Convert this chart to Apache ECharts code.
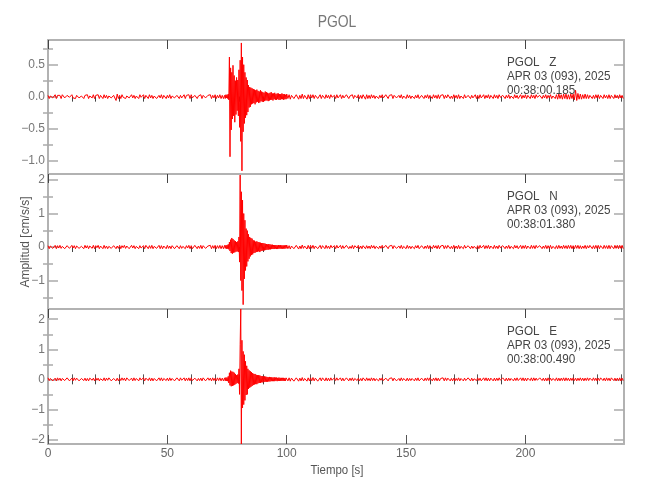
<!DOCTYPE html>
<html>
<head>
<meta charset="utf-8">
<script src="https://cdn.jsdelivr.net/npm/echarts@6/dist/echarts.min.js"></script>
<style>html,body{margin:0;padding:0;background:#fff}#c{width:650px;height:500px}</style>
</head>
<body>
<div id="c"></div>
<script>
// ---------- data (cm/s/s) ----------
// stored samples: pre-event every 0.5 s from 0 s, event window every 0.25 s from 74 s, post-event every 0.5 s from 100 s
const preStart = 0, preStep = 0.5;
const evStart = 74, evStep = 0.25;
const postStart = 100, postStep = 0.5;

const zPre = [
 0.02,-0.03,0.01,0.03,-0.02,-0.01,0.03,-0.03,0.02,-0.01,0.02,-0.03,0.03,0.01,-0.02,-0.03,0.02,0.03,-0.01,-0.03,
 0.03,-0.02,0.01,-0.03,0.02,0.03,-0.02,-0.03,0.01,0.02,-0.03,0.02,-0.01,0.03,-0.03,0.01,0.02,-0.02,0.03,-0.03,
 0.02,-0.01,0.03,-0.03,0.02,0.01,-0.03,0.03,-0.02,0.02,-0.03,0.01,0.03,-0.02,-0.03,0.02,0.05,-0.06,0.04,-0.03,
 0.02,-0.03,0.03,-0.01,0.02,-0.03,0.01,0.03,-0.02,-0.03,0.03,-0.02,0.02,-0.03,0.01,0.02,-0.03,0.03,-0.01,-0.02,
 0.03,-0.03,0.02,0.01,-0.03,0.03,-0.02,0.02,-0.03,0.01,0.03,-0.03,-0.01,0.02,-0.02,0.03,-0.03,0.02,0.01,-0.03,
 0.02,-0.02,0.03,-0.03,0.01,0.03,-0.02,-0.03,0.02,0.03,-0.03,0.02,-0.02,0.01,0.03,-0.03,0.02,-0.01,0.03,-0.03,
 0.03,-0.02,-0.03,0.02,0.03,-0.03,0.01,-0.02,0.03,-0.03,0.02,0.03,-0.02,-0.03,0.02,-0.01,0.03,-0.03,0.02,-0.02,
 0.03,-0.03,0.02,-0.02,0.03,-0.03,0.02,-0.03];
const zEvent = [0.02,-0.03,0.03,-0.02,0.03,-0.03,0.04,-0.05,
 0.62,-0.94,0.45,-0.52,0.38,-0.35,0.49,-0.30,
 0.33,-0.40,0.25,-0.28,0.30,-0.22,0.26,-0.30,
 0.42,-0.48,0.57,-0.70,0.84,-1.16,0.62,-0.55,
 0.50,-0.42,0.38,-0.33,0.30,-0.29,0.26,-0.24,
 0.18,-0.17,0.15,-0.16,0.14,-0.12,0.13,-0.11,
 0.12,-0.10,0.11,-0.12,0.10,-0.09,0.11,-0.08,
 0.09,-0.10,0.08,-0.09,0.10,-0.07,0.08,-0.08,
 0.07,-0.08,0.06,-0.07,0.08,-0.06,0.07,-0.06,
 0.06,-0.07,0.05,-0.06,0.06,-0.05,0.07,-0.05,
 0.05,-0.06,0.05,-0.04,0.06,-0.05,0.04,-0.05,
 0.05,-0.04,0.05,-0.05,0.04,-0.05,0.04,-0.04,
 0.05,-0.04,0.04,-0.05,0.04,-0.04,0.03,-0.04];
const zPost = [
 0.04,-0.03,0.03,-0.04,0.02,0.04,-0.03,-0.04,0.03,0.03,-0.04,0.02,-0.03,0.04,-0.03,0.02,0.03,-0.04,0.03,-0.03,
 0.03,-0.02,0.03,-0.03,0.02,0.03,-0.03,-0.02,0.03,-0.03,0.02,0.01,-0.03,0.03,-0.02,0.02,-0.03,0.03,-0.01,-0.03,
 0.02,-0.03,0.03,-0.02,0.01,0.03,-0.03,0.02,-0.02,-0.03,0.03,0.02,-0.03,0.01,-0.02,0.03,-0.03,0.02,0.03,-0.02,
 0.03,-0.03,0.02,-0.03,0.03,0.04,-0.04,0.03,-0.03,0.02,-0.03,0.03,-0.02,0.02,-0.03,0.01,0.03,-0.03,0.02,-0.02,
 0.03,-0.02,-0.03,0.03,0.02,-0.03,0.02,-0.01,0.03,-0.03,0.02,0.03,-0.02,-0.03,0.02,-0.02,0.03,-0.03,0.01,0.02,
 -0.03,0.03,-0.02,0.02,-0.03,0.01,0.03,-0.03,0.02,-0.02,0.03,-0.03,-0.01,0.02,0.03,-0.03,0.02,-0.02,0.03,-0.03,
 0.02,0.01,-0.03,0.03,-0.02,0.02,-0.03,0.03,-0.03,0.02,-0.01,0.03,-0.03,0.02,-0.02,0.03,0.02,-0.03,0.01,-0.03,
 0.03,-0.02,0.02,-0.03,0.03,-0.03,0.01,0.02,-0.03,0.03,-0.02,-0.03,0.02,0.03,-0.03,0.02,-0.02,0.01,0.03,-0.03,
 0.02,-0.03,0.03,-0.02,-0.01,0.03,-0.03,0.02,-0.02,0.03,-0.03,0.02,0.01,-0.03,0.03,-0.02,0.02,-0.03,0.03,-0.01,
 -0.03,0.02,0.03,-0.03,0.02,-0.02,0.03,-0.03,0.01,0.02,-0.03,0.03,-0.02,0.02,-0.03,-0.01,0.03,-0.03,0.02,-0.02,
 0.03,-0.03,0.02,0.01,-0.03,0.03,-0.02,0.02,-0.03,0.03,-0.01,-0.03,0.02,0.03,-0.03,0.02,-0.02,0.03,-0.03,0.02,
 -0.02,0.03,-0.03,0.01,0.03,-0.03,0.03,-0.04,0.04,-0.03,0.03,-0.04,0.04,-0.03,0.04,-0.04,0.03,-0.04,0.04,-0.03,
 0.04,-0.05,0.10,-0.06,0.05,-0.04,0.04,-0.04,0.03,-0.03,0.04,-0.03,0.03,-0.03,0.02,0.03,-0.03,0.02,-0.03,0.03,
 -0.02,0.03,-0.03,0.02,0.01,-0.03,0.03,-0.02,0.02,-0.03,0.03,-0.03,0.02,0.01,-0.03,0.03,-0.02,0.02,-0.03,0.03,
 -0.02,0.02,-0.03];

const nPre = [
 0.04,-0.05,0.03,0.05,-0.04,-0.02,0.05,-0.05,0.04,-0.03,0.05,-0.04,0.02,0.05,-0.05,-0.03,0.04,0.05,-0.04,-0.05,
 0.05,-0.03,0.04,-0.05,0.03,0.05,-0.04,-0.05,0.02,0.04,-0.05,0.05,-0.03,0.04,-0.05,0.03,0.05,-0.04,0.05,-0.05,
 0.04,-0.02,0.05,-0.05,0.03,0.04,-0.05,0.05,-0.04,0.03,-0.05,0.02,0.05,-0.04,-0.05,0.04,0.05,-0.05,0.03,-0.04,
 0.05,-0.05,0.04,-0.02,0.05,-0.04,0.03,0.05,-0.05,-0.04,0.05,-0.03,0.04,-0.05,0.02,0.05,-0.05,0.04,-0.03,-0.05,
 0.04,-0.05,0.05,0.03,-0.05,0.04,-0.04,0.05,-0.05,0.02,0.05,-0.04,-0.03,0.05,-0.05,0.04,-0.05,0.03,0.04,-0.05,
 0.05,-0.04,0.03,-0.05,0.04,0.05,-0.05,-0.03,0.04,0.05,-0.05,0.04,-0.04,0.02,0.05,-0.05,0.04,-0.03,0.05,-0.05,
 0.04,-0.05,-0.03,0.05,0.04,-0.05,0.03,-0.04,0.05,-0.05,0.04,0.05,-0.04,-0.05,0.03,-0.02,0.05,-0.05,0.04,-0.04,
 0.05,-0.05,0.04,-0.04,0.05,-0.05,0.04,-0.05];
const nEvent = [0.05,-0.04,0.05,-0.05,0.06,-0.05,0.08,-0.07,
 0.15,-0.12,0.22,-0.18,0.27,-0.20,0.24,-0.17,
 0.20,-0.16,0.18,-0.14,0.15,-0.13,0.17,-0.15,
 0.30,-0.45,2.15,-1.00,1.65,-1.30,1.40,-1.72,
 1.00,-0.95,0.80,-0.70,0.55,-0.58,0.49,-0.43,
 0.38,-0.35,0.30,-0.28,0.27,-0.24,0.25,-0.22,
 0.20,-0.18,0.19,-0.17,0.16,-0.15,0.17,-0.14,
 0.15,-0.13,0.14,-0.15,0.13,-0.12,0.12,-0.11,
 0.12,-0.10,0.11,-0.10,0.10,-0.09,0.09,-0.08,
 0.08,-0.08,0.09,-0.07,0.08,-0.07,0.07,-0.06,
 0.07,-0.06,0.06,-0.06,0.06,-0.05,0.06,-0.06,
 0.05,-0.06,0.06,-0.05,0.05,-0.05,0.06,-0.05,
 0.05,-0.05,0.05,-0.05,0.05,-0.05,0.05,-0.04];
const nPost = [
 0.06,-0.05,0.04,-0.06,0.03,0.06,-0.05,-0.06,0.05,0.04,-0.06,0.03,-0.05,0.06,-0.04,0.03,0.05,-0.06,0.05,-0.05,
 0.05,-0.04,0.05,-0.05,0.03,0.05,-0.05,-0.03,0.05,-0.05,0.04,0.02,-0.05,0.05,-0.04,0.03,-0.05,0.05,-0.02,-0.05,
 0.04,-0.05,0.05,-0.03,0.02,0.05,-0.05,0.04,-0.04,-0.05,0.05,0.03,-0.05,0.02,-0.04,0.05,-0.05,0.04,0.05,-0.03,
 0.05,-0.05,0.03,-0.05,0.04,0.05,-0.05,0.04,-0.04,0.03,-0.05,0.05,-0.03,0.04,-0.05,0.02,0.05,-0.05,0.03,-0.04,
 0.05,-0.03,-0.05,0.05,0.04,-0.05,0.03,-0.02,0.05,-0.05,0.04,0.05,-0.04,-0.05,0.03,-0.04,0.05,-0.05,0.02,0.04,
 -0.05,0.05,-0.04,0.03,-0.05,0.02,0.05,-0.05,0.04,-0.03,0.05,-0.05,-0.02,0.04,0.05,-0.05,0.03,-0.04,0.05,-0.05,
 0.04,0.02,-0.05,0.05,-0.03,0.04,-0.05,0.05,-0.05,0.03,-0.02,0.05,-0.05,0.04,-0.04,0.05,0.03,-0.05,0.02,-0.05,
 0.05,-0.04,0.03,-0.05,0.05,-0.05,0.02,0.04,-0.05,0.05,-0.03,-0.05,0.04,0.05,-0.05,0.03,-0.04,0.02,0.05,-0.05,
 0.04,-0.05,0.05,-0.03,-0.02,0.05,-0.05,0.04,-0.04,0.05,-0.05,0.03,0.02,-0.05,0.05,-0.04,0.03,-0.05,0.05,-0.02,
 -0.05,0.04,0.05,-0.05,0.03,-0.04,0.05,-0.05,0.02,0.04,-0.05,0.05,-0.03,0.04,-0.05,-0.02,0.05,-0.05,0.04,-0.04,
 0.05,-0.05,0.03,0.02,-0.05,0.05,-0.04,0.04,-0.05,0.05,-0.02,-0.05,0.04,0.05,-0.05,0.03,-0.04,0.05,-0.05,0.04,
 -0.04,0.05,-0.05,0.02,0.05,-0.05,0.04,-0.05,0.05,-0.04,0.03,-0.05,0.05,-0.04,0.04,-0.05,0.05,-0.04,0.05,-0.05,
 0.04,-0.05,0.05,-0.04,0.05,-0.05,0.04,-0.05,0.03,-0.04,0.05,-0.05,0.04,-0.03,0.05,0.03,-0.05,0.04,-0.05,0.05,
 -0.04,0.05,-0.05,0.04,0.03,-0.05,0.05,-0.04,0.04,-0.05,0.05,-0.05,0.04,0.03,-0.05,0.05,-0.04,0.05,-0.05,0.05,
 -0.04,0.05,-0.05];

const ePre = [
 0.05,-0.04,0.03,0.05,-0.05,-0.02,0.04,-0.05,0.05,-0.03,0.04,-0.05,0.03,0.05,-0.04,-0.05,0.05,0.03,-0.05,-0.04,
 0.04,-0.05,0.05,-0.03,0.04,0.05,-0.05,-0.04,0.03,0.05,-0.04,0.04,-0.05,0.03,-0.05,0.04,0.05,-0.03,0.04,-0.05,
 0.05,-0.03,0.04,-0.05,0.02,0.05,-0.04,0.05,-0.05,0.04,-0.03,0.05,0.04,-0.05,-0.04,0.03,0.05,-0.05,0.04,-0.05,
 0.04,-0.04,0.05,-0.03,0.04,-0.05,0.05,0.03,-0.04,-0.05,0.04,-0.05,0.05,-0.04,0.03,0.04,-0.05,0.05,-0.02,-0.05,
 0.05,-0.05,0.04,0.02,-0.04,0.05,-0.05,0.04,-0.05,0.03,0.04,-0.05,-0.04,0.05,-0.04,0.05,-0.05,0.03,0.05,-0.04,
 0.04,-0.05,0.05,-0.04,0.03,0.04,-0.05,-0.04,0.05,0.04,-0.05,0.05,-0.03,0.02,0.05,-0.05,0.04,-0.04,0.05,-0.05,
 0.05,-0.04,-0.05,0.04,0.05,-0.05,0.03,-0.04,0.04,-0.05,0.05,0.04,-0.05,-0.04,0.05,-0.03,0.04,-0.05,0.05,-0.04,
 0.04,-0.05,0.05,-0.04,0.05,-0.05,0.04,-0.05];
const eEvent = [0.05,-0.05,0.06,-0.05,0.06,-0.06,0.10,-0.12,
 0.22,-0.20,0.29,-0.23,0.26,-0.22,0.25,-0.20,
 0.22,-0.18,0.18,-0.15,0.14,-0.12,0.16,-0.14,
 0.35,-0.50,1.15,2.34,-2.15,1.30,-0.95,0.93,
 -0.84,0.82,-0.70,0.60,-0.52,0.45,-0.50,0.35,
 -0.32,0.30,-0.28,0.27,-0.25,0.24,-0.22,0.21,
 -0.19,0.18,-0.17,0.18,-0.16,0.15,-0.16,0.14,
 -0.13,0.14,-0.12,0.13,-0.12,0.11,-0.10,0.11,
 -0.10,0.09,-0.09,0.10,-0.08,0.09,-0.08,0.08,
 -0.08,0.07,-0.07,0.08,-0.07,0.07,-0.06,0.07,
 -0.06,0.06,-0.06,0.07,-0.06,0.06,-0.05,0.06,
 -0.06,0.05,-0.05,0.06,-0.05,0.05,-0.05,0.05,
 -0.05,0.05,-0.05,0.05,-0.05,0.04,-0.05,0.05];
const ePost = [
 0.06,-0.05,0.05,-0.06,0.04,0.06,-0.06,-0.04,0.05,0.05,-0.06,0.04,-0.05,0.06,-0.05,0.03,0.05,-0.06,0.05,-0.05,
 0.05,-0.05,0.06,-0.05,0.04,0.05,-0.06,-0.04,0.05,-0.05,0.05,0.03,-0.05,0.05,-0.05,0.04,-0.05,0.05,-0.03,-0.05,
 0.05,-0.04,0.05,-0.03,0.02,0.05,-0.05,0.04,-0.05,-0.04,0.05,0.03,-0.05,0.04,-0.04,0.05,-0.05,0.03,0.05,-0.04,
 0.04,-0.05,0.03,-0.05,0.05,0.04,-0.05,0.05,-0.04,0.03,-0.05,0.05,-0.04,0.04,-0.05,0.02,0.05,-0.05,0.04,-0.03,
 0.05,-0.04,-0.05,0.04,0.05,-0.05,0.03,-0.03,0.05,-0.05,0.04,0.05,-0.05,-0.04,0.03,-0.05,0.05,-0.04,0.03,0.04,
 -0.05,0.04,-0.05,0.03,-0.04,0.03,0.05,-0.05,0.04,-0.04,0.05,-0.05,-0.03,0.04,0.05,-0.05,0.04,-0.04,0.05,-0.04,
 0.05,0.02,-0.05,0.04,-0.04,0.05,-0.05,0.04,-0.05,0.03,-0.03,0.05,-0.05,0.05,-0.04,0.04,0.03,-0.05,0.03,-0.05,
 0.04,-0.05,0.03,-0.04,0.05,-0.05,0.03,0.04,-0.05,0.04,-0.04,-0.05,0.05,0.04,-0.05,0.04,-0.05,0.02,0.05,-0.04,
 0.05,-0.04,0.04,-0.05,-0.03,0.05,-0.04,0.05,-0.05,0.04,-0.05,0.04,0.02,-0.05,0.04,-0.05,0.04,-0.04,0.05,-0.03,
 -0.04,0.05,0.04,-0.05,0.04,-0.05,0.04,-0.04,0.03,0.05,-0.05,0.04,-0.04,0.05,-0.04,-0.03,0.05,-0.04,0.05,-0.05,
 0.04,-0.05,0.04,0.03,-0.04,0.05,-0.05,0.05,-0.04,0.04,-0.03,-0.05,0.05,0.04,-0.04,0.04,-0.05,0.04,-0.05,0.05,
 -0.05,0.04,-0.04,0.03,0.05,-0.04,0.05,-0.05,0.04,-0.05,0.04,-0.04,0.05,-0.05,0.05,-0.04,0.04,-0.05,0.04,-0.04,
 0.05,-0.04,0.04,-0.05,0.04,-0.04,0.05,-0.04,0.04,-0.05,0.04,-0.04,0.05,-0.04,0.04,0.03,-0.04,0.05,-0.04,0.04,
 -0.05,0.04,-0.04,0.05,0.03,-0.04,0.04,-0.05,0.05,-0.04,0.04,-0.05,0.05,0.03,-0.04,0.04,-0.05,0.04,-0.04,0.05,
 -0.05,0.04,-0.04];

// axis ranges and ticks
const xRange = [0, 241.3];
const xMajor = [0, 50, 100, 150, 200];
const xMinor = [10,20,30,40,60,70,80,90,110,120,130,140,160,170,180,190,210,220,230,240];
const yRanges = [[-1.21, 0.886], [-1.85, 2.18], [-2.15, 2.34]];
const yMajors = [[-1.0, -0.5, 0, 0.5], [-1, 0, 1, 2], [-2, -1, 0, 1, 2]];
const yMinors = [[-0.75, -0.25, 0.25, 0.75], [-1.5, -0.5, 0.5, 1.5], [-1.5, -0.5, 0.5, 1.5]];
const yDecimals = [1, 0, 0];

// texts
const title = 'PGOL';
const channelLabels = ['PGOL   Z', 'PGOL   N', 'PGOL   E'];
const dateLabel = 'APR 03 (093), 2025';
const startTimes = ['00:38:00.185', '00:38:01.380', '00:38:00.490'];
const yName = 'Amplitud [cm/s/s]';
const xName = 'Tiempo [s]';

// ---------- build ----------
function trace(pre, ev, post) {
  const d = [];
  pre.forEach((v, i) => d.push([preStart + i * preStep, v]));
  ev.forEach((v, i) => d.push([evStart + i * evStep, v]));
  post.forEach((v, i) => d.push([postStart + i * postStep, v]));
  return d;
}
const traces = [trace(zPre, zEvent, zPost), trace(nPre, nEvent, nPost), trace(ePre, eEvent, ePost)];

const FONT = "'Liberation Sans','DejaVu Sans Condensed',sans-serif";
const LFONT = "'Liberation Sans','DejaVu Sans Condensed',sans-serif";
const FRAME = '#b2b2b2';
const grids = [
  {left: 48, width: 576, top: 40, height: 134},
  {left: 48, width: 576, top: 174, height: 135},
  {left: 48, width: 576, top: 309, height: 135}
];

const xAxis = [], yAxis = [], series = [];
function fmt(v, dec) {
  const s = Math.abs(v).toFixed(dec);
  return (v < 0 ? '\u2212' : '') + s;
}
grids.forEach((g, p) => {
  const isLast = p === grids.length - 1;
  const mainX = xAxis.length;
  xAxis.push({type: 'value', gridIndex: p, position: 'bottom', min: xRange[0], max: xRange[1],
    splitLine: {show: false},
    axisLine: {show: true, onZero: false, lineStyle: {color: FRAME, width: 2}},
    axisTick: {show: isLast, inside: true, length: 9, customValues: xMajor, lineStyle: {color: '#555', width: 1}},
    axisLabel: {show: isLast, customValues: xMajor, margin: 4, color: '#666', fontFamily: LFONT, fontSize: 12}
  });
  if (isLast) {
    xAxis.push({type: 'value', gridIndex: p, position: 'bottom', min: xRange[0], max: xRange[1],
      splitLine: {show: false}, axisLine: {show: false},
      axisTick: {show: true, inside: true, length: 5, customValues: xMinor, lineStyle: {color: '#555', width: 1}},
      axisLabel: {show: false}
    });
  }
  xAxis.push({type: 'value', gridIndex: p, position: 'top', min: xRange[0], max: xRange[1],
    splitLine: {show: false},
    axisLine: {show: true, onZero: false, lineStyle: {color: FRAME, width: 2}},
    axisTick: {show: true, inside: true, length: 9, customValues: xMajor, lineStyle: {color: '#444', width: 1}},
    axisLabel: {show: false}
  });
  xAxis.push({type: 'value', gridIndex: p, position: 'top', min: xRange[0], max: xRange[1],
    splitLine: {show: false}, axisLine: {show: false},
    axisTick: {show: true, inside: true, length: 5, customValues: xMinor, lineStyle: {color: '#444', width: 1}},
    axisLabel: {show: false}
  });
  const mainY = yAxis.length;
  const yr = yRanges[p];
  yAxis.push({type: 'value', gridIndex: p, position: 'left', min: yr[0], max: yr[1],
    splitLine: {show: false},
    axisLine: {show: true, onZero: false, lineStyle: {color: FRAME, width: 2}},
    axisTick: {show: true, inside: true, length: 10, customValues: yMajors[p], lineStyle: {color: '#aaa', width: 1.5}},
    axisLabel: {show: true, customValues: yMajors[p], margin: 3, color: '#777', fontFamily: LFONT, fontSize: 12,
      formatter: (v) => fmt(v, yDecimals[p])}
  });
  yAxis.push({type: 'value', gridIndex: p, position: 'left', min: yr[0], max: yr[1],
    splitLine: {show: false}, axisLine: {show: false},
    axisTick: {show: true, inside: true, length: 5, customValues: yMinors[p], lineStyle: {color: '#aaa', width: 1.5}},
    axisLabel: {show: false}
  });
  yAxis.push({type: 'value', gridIndex: p, position: 'right', min: yr[0], max: yr[1],
    splitLine: {show: false},
    axisLine: {show: true, onZero: false, lineStyle: {color: FRAME, width: 2}},
    axisTick: {show: true, inside: true, length: 10, customValues: yMajors[p], lineStyle: {color: '#aaa', width: 1.5}},
    axisLabel: {show: false}
  });
  yAxis.push({type: 'value', gridIndex: p, position: 'right', min: yr[0], max: yr[1],
    splitLine: {show: false}, axisLine: {show: false},
    axisTick: {show: true, inside: true, length: 5, customValues: yMinors[p], lineStyle: {color: '#aaa', width: 1.5}},
    axisLabel: {show: false}
  });
  series.push({type: 'line', xAxisIndex: mainX, yAxisIndex: mainY, data: traces[p],
    showSymbol: false, symbol: 'none', silent: true,
    lineStyle: {color: '#ff0000', width: 1}, z: 1});
});

const graphic = [];
grids.forEach((g, p) => {
  const lines = [channelLabels[p], dateLabel, startTimes[p]];
  lines.forEach((t, k) => {
    graphic.push({type: 'text', x: 507, y: g.top + 22 + k * 14.3, scaleX: 0.9, z: 10,
      style: {text: t, fill: '#444', font: '13px ' + FONT, textVerticalAlign: 'middle'}});
  });
});
graphic.push({type: 'text', x: 25, y: 242, rotation: Math.PI / 2, scaleX: 0.92, z: 10,
  style: {text: yName, fill: '#555', font: '13px ' + FONT, textAlign: 'center', textVerticalAlign: 'middle'}});
graphic.push({type: 'text', x: 337, y: 470, scaleX: 0.88, z: 10,
  style: {text: xName, fill: '#555', font: '13px ' + FONT, textAlign: 'center', textVerticalAlign: 'middle'}});
graphic.push({type: 'text', x: 337, y: 22, scaleX: 0.82, z: 10,
  style: {text: title, fill: '#777', font: '17px ' + FONT, textAlign: 'center', textVerticalAlign: 'middle'}});

const chart = echarts.init(document.getElementById('c'), null, {renderer: 'canvas'});
chart.setOption({
  animation: false,
  backgroundColor: '#ffffff',
  grid: grids,
  xAxis: xAxis,
  yAxis: yAxis,
  series: series,
  graphic: graphic
});
</script>
</body>
</html>
